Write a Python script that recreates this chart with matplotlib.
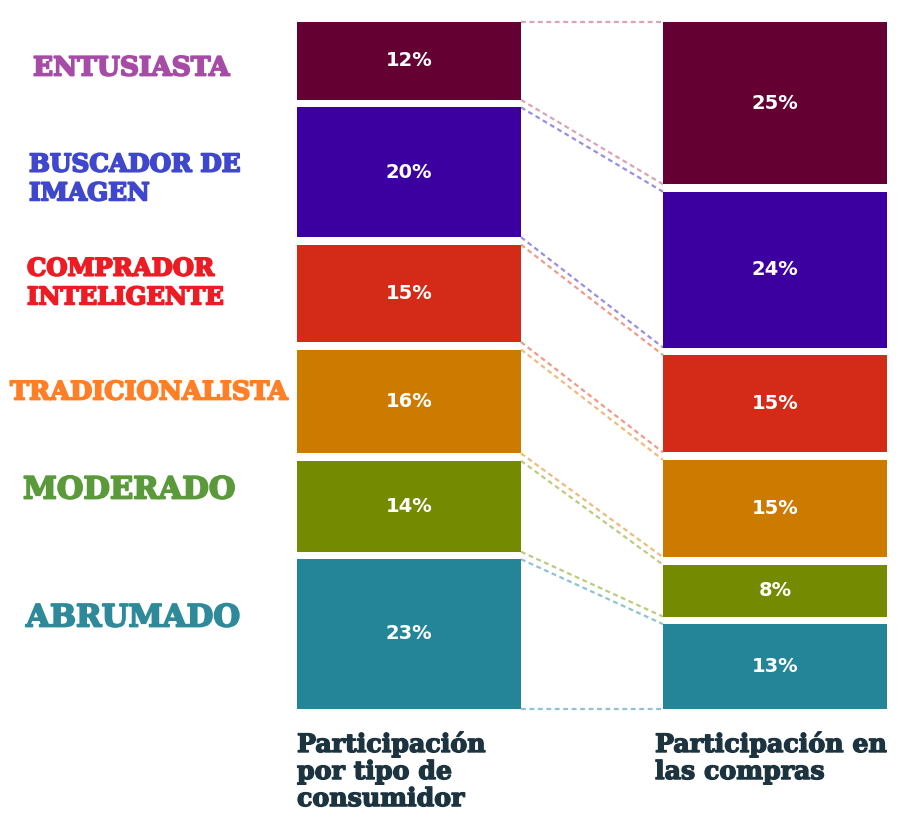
import matplotlib
matplotlib.use("Agg")
import matplotlib.pyplot as plt
import matplotlib.transforms as mtransforms
import matplotlib.patheffects as pe

# ---------------- data ----------------
categories = ["ENTUSIASTA", "BUSCADOR DE\nIMAGEN", "COMPRADOR\nINTELIGENTE",
              "TRADICIONALISTA", "MODERADO", "ABRUMADO"]
share_consumers = [12, 20, 15, 16, 14, 23]   # Participación por tipo de consumidor
share_purchases = [25, 24, 15, 15, 8, 13]    # Participación en las compras
bar_labels = ["Participación\npor tipo de\nconsumidor", "Participación en\nlas compras"]

# ---------------- styles ----------------
bar_colors = ["#650033", "#3c00a0", "#d32b17", "#cd7a00", "#748a00", "#248498"]
line_colors = ["#d9a3b8", "#9a8ee0", "#ee9a8c", "#eebb80", "#bccb80", "#8fc3cf"]
label_colors = ["#a64ca6", "#3f48cc", "#ed1c24", "#ff7f27", "#5a9a3a", "#2e8a9a"]
label_sizes = [19, 17.8, 17.5, 18.4, 22, 22.2]
label_pos = [(33, 68), (29, 179), (27, 283), (10, 392), (23, 490), (26, 618)]

W, H = 897, 822
fig = plt.figure(figsize=(W / 100, H / 100), dpi=100)
fig.patch.set_facecolor("white")

# axes: x in pixels, y in percentage units (top of bars = 0)
top_px, px_per_pct, gap_px = 22, 6.49, 7.5
ax = fig.add_axes([0, 0, 1, 1])
ax.set_xlim(0, W)
ax.set_ylim((H - top_px) / px_per_pct, -top_px / px_per_pct)
ax.axis("off")
gap = gap_px / px_per_pct

x_left, x_right, bar_w = 297, 663, 224


def stack(values):
    bottoms, y = [], 0.0
    for v in values:
        bottoms.append(y)
        y += v + gap
    return bottoms


bl = stack(share_consumers)
br = stack(share_purchases)

for xs, vals, bots in ((x_left, share_consumers, bl), (x_right, share_purchases, br)):
    ax.bar([xs] * len(vals), vals, bottom=bots, width=bar_w, align="edge",
           color=bar_colors, edgecolor="none", zorder=3)
    for v, b in zip(vals, bots):
        ax.text(xs + bar_w / 2, b + v / 2, f"{v}%", color="white", ha="center",
                va="center", fontsize=14, fontweight="bold",
                family="DejaVu Sans", zorder=4)

# connectors
x0, x1 = x_left + bar_w, x_right
for i in range(len(categories)):
    for yl, yr in ((bl[i], br[i]), (bl[i] + share_consumers[i], br[i] + share_purchases[i])):
        ax.plot([x0, x1], [yl, yr], color=line_colors[i], lw=1.6,
                linestyle=(0, (2.2, 1.6)), zorder=2)

# category labels (pixel coordinates)
pix = mtransforms.Affine2D().scale(1 / W, -1 / H).translate(0, 1) + fig.transFigure
for name, col, fs, (px, py) in zip(categories, label_colors, label_sizes, label_pos):
    fig.text(px, py, name, transform=pix, color=col, fontsize=fs,
             fontweight="bold", family="DejaVu Serif", ha="left", va="center",
             linespacing=1.25,
             path_effects=[pe.Stroke(linewidth=1.3, foreground=col), pe.Normal()])

# bottom labels
dark = "#1c3340"
for (px, txt) in ((297, bar_labels[0]), (655, bar_labels[1])):
    fig.text(px, 732, txt, transform=pix, color=dark, fontsize=18.2,
             fontweight="bold", family="DejaVu Serif", ha="left", va="top",
             linespacing=1.16,
             path_effects=[pe.Stroke(linewidth=1.0, foreground=dark), pe.Normal()])

fig.savefig("out.png", dpi=100, facecolor="white")
